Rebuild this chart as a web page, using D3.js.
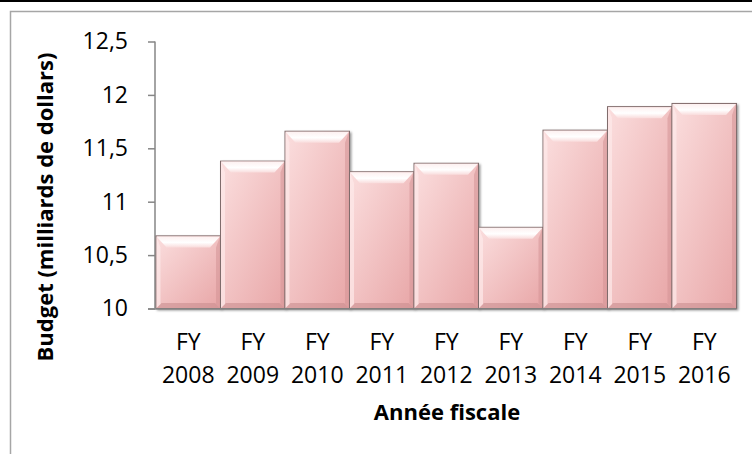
<!DOCTYPE html>
<html>
<head>
<meta charset="utf-8">
<script src="https://cdn.jsdelivr.net/npm/d3@7"></script>
<style>
  body { margin: 0; background: #fff; }
  svg { display: block; font-family: "Open Sans", "Liberation Sans", sans-serif; }
</style>
</head>
<body>
<div id="chart"></div>
<script>
// data
var years = ["2008", "2009", "2010", "2011", "2012", "2013", "2014", "2015", "2016"];
var budget = [10.68, 11.38, 11.66, 11.28, 11.36, 10.76, 11.67, 11.89, 11.92];
var yTicks = [10, 10.5, 11, 11.5, 12, 12.5];

var width = 752, height = 454;
var plotLeft = 156, plotRight = 736.5, plotTop = 41.5, plotBottom = 308.5;

var svg = d3.select("#chart").append("svg")
    .attr("width", width)
    .attr("height", height);

var defs = svg.append("defs");

// face of the bars, light top-left to darker bottom-right
var face = defs.append("linearGradient")
    .attr("id", "face")
    .attr("x1", 0).attr("y1", 0).attr("x2", 1).attr("y2", 1);
face.append("stop").attr("offset", "0%").attr("stop-color", "#fbdede");
face.append("stop").attr("offset", "100%").attr("stop-color", "#e8a6a7");

var topBevel = defs.append("linearGradient")
    .attr("id", "topBevel")
    .attr("x1", 0).attr("y1", 0).attr("x2", 0).attr("y2", 1);
topBevel.append("stop").attr("offset", "0%").attr("stop-color", "#fdf0f0");
topBevel.append("stop").attr("offset", "55%").attr("stop-color", "#ffffff");
topBevel.append("stop").attr("offset", "100%").attr("stop-color", "#f9dcdc");

var shadow = defs.append("filter").attr("id", "shadow")
    .attr("x", "-10%").attr("y", "-10%").attr("width", "130%").attr("height", "130%");
shadow.append("feDropShadow")
    .attr("dx", 1.5).attr("dy", 1.5).attr("stdDeviation", 1.2)
    .attr("flood-color", "#000").attr("flood-opacity", 0.4);

// frame lines
svg.append("rect").attr("x", 0).attr("y", 0).attr("width", width).attr("height", 2).attr("fill", "#000");
svg.append("path")
    .attr("d", "M10.5," + height + "V11.5H" + width)
    .attr("fill", "none")
    .attr("stroke", "#a6a6a6")
    .attr("stroke-width", 1.5);

var x = d3.scaleBand().domain(years).range([plotLeft, plotRight]).paddingInner(0).paddingOuter(0);
var y = d3.scaleLinear().domain([10, 12.5]).range([plotBottom, plotTop]);

// y axis
var yAxis = svg.append("g")
    .attr("transform", "translate(155,0)")
    .call(d3.axisLeft(y).tickValues(yTicks).tickSize(7).tickPadding(20)
        .tickFormat(function(d) { return String(d).replace(".", ","); }));
yAxis.select(".domain").attr("stroke", "#868686").attr("stroke-width", 1.5)
    .attr("d", "M0," + plotTop + "V" + plotBottom);
yAxis.selectAll(".tick line").attr("stroke", "#868686").attr("stroke-width", 1.5);
yAxis.selectAll(".tick text").attr("font-size", "23px").attr("fill", "#000")
    .attr("font-family", "Open Sans");

// bars
var bars = svg.append("g").selectAll("g.bar")
    .data(budget)
    .enter().append("g")
    .attr("class", "bar")
    .attr("filter", "url(#shadow)");

var bw = x.bandwidth();
bars.append("rect")
    .attr("x", function(d, i) { return x(years[i]); })
    .attr("y", function(d) { return y(d); })
    .attr("width", bw)
    .attr("height", function(d) { return y(10) - y(d); })
    .attr("fill", "url(#face)")
    .attr("stroke", "#806c6c")
    .attr("stroke-width", 1);

var bev = 10, bevH = 11, botH = 5, sideW = 4;
// top bevel
bars.append("path")
    .attr("d", function(d, i) {
        var x0 = x(years[i]) + 0.5, x1 = x0 + bw - 1, t = y(d) + 0.5;
        return "M" + x0 + "," + t + "L" + x1 + "," + t + "L" + (x1 - bev) + "," + (t + bevH) +
            "L" + (x0 + bev) + "," + (t + bevH) + "Z";
    })
    .attr("fill", "url(#topBevel)");
// bottom bevel
bars.append("path")
    .attr("d", function(d, i) {
        var x0 = x(years[i]) + 0.5, x1 = x0 + bw - 1, b = y(10) - 0.5;
        return "M" + x0 + "," + b + "L" + x1 + "," + b + "L" + (x1 - botH) + "," + (b - botH) +
            "L" + (x0 + botH) + "," + (b - botH) + "Z";
    })
    .attr("fill", "#c98e8f").attr("opacity", 0.6);
// right bevel
bars.append("path")
    .attr("d", function(d, i) {
        var x1 = x(years[i]) + bw - 0.5, t = y(d) + 0.5, b = y(10) - 0.5;
        return "M" + x1 + "," + t + "L" + x1 + "," + b + "L" + (x1 - sideW) + "," + (b - sideW) +
            "L" + (x1 - sideW) + "," + (t + bevH) + "Z";
    })
    .attr("fill", "#d49495").attr("opacity", 0.55);
// left bevel
bars.append("path")
    .attr("d", function(d, i) {
        var x0 = x(years[i]) + 0.5, t = y(d) + 0.5, b = y(10) - 0.5;
        return "M" + x0 + "," + t + "L" + x0 + "," + b + "L" + (x0 + sideW) + "," + (b - sideW) +
            "L" + (x0 + sideW) + "," + (t + bevH) + "Z";
    })
    .attr("fill", "#fdeaea").attr("opacity", 0.7);

// x axis line
svg.append("line")
    .attr("x1", 148).attr("x2", plotRight)
    .attr("y1", plotBottom + 0.5).attr("y2", plotBottom + 0.5)
    .attr("stroke", "#868686").attr("stroke-width", 1.5);

// x labels (two lines)
var xl = svg.append("g").selectAll("text")
    .data(years)
    .enter().append("text")
    .attr("text-anchor", "middle")
    .attr("font-size", "23px")
    .attr("fill", "#000");
xl.append("tspan")
    .attr("x", function(d) { return x(d) + bw / 2; })
    .attr("y", 350)
    .text("FY");
xl.append("tspan")
    .attr("x", function(d) { return x(d) + bw / 2; })
    .attr("y", 383)
    .text(function(d) { return d; });

// axis titles
svg.append("text")
    .attr("x", 447).attr("y", 420)
    .attr("text-anchor", "middle")
    .attr("font-size", "22px")
    .attr("font-weight", "bold")
    .text("Année fiscale");

svg.append("text")
    .attr("transform", "translate(53,207) rotate(-90)")
    .attr("text-anchor", "middle")
    .attr("font-size", "22px")
    .attr("font-weight", "bold")
    .text("Budget (milliards de dollars)");
</script>
</body>
</html>
